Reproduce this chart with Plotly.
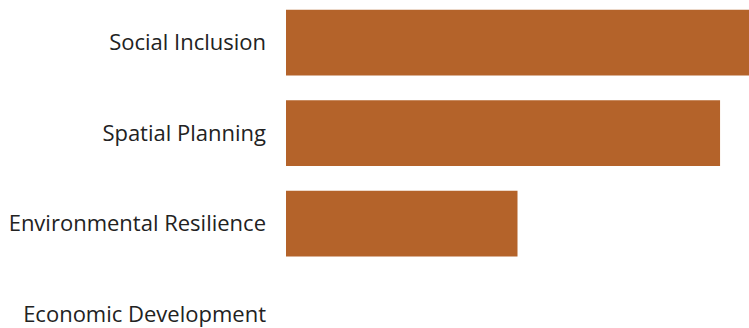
import plotly.graph_objects as go

categories = ["Social Inclusion", "Spatial Planning", "Environmental Resilience", "Economic Development"]
values = [16, 15, 8, 0]
bar_color = "#B4632A"

fig = go.Figure(go.Bar(
    y=categories,
    x=values,
    orientation="h",
    marker=dict(color=bar_color, line=dict(width=0)),
))

fig.update_layout(
    width=749,
    height=328,
    margin=dict(l=286, r=0, t=0, b=0),
    paper_bgcolor="white",
    plot_bgcolor="white",
    bargap=0.275,
    showlegend=False,
    font=dict(family="Open Sans", size=22, color="#222222"),
)
fig.update_xaxes(range=[0, 16], visible=False, showgrid=False, zeroline=False)
fig.update_yaxes(
    range=[3.075, -0.47],
    showgrid=False,
    zeroline=False,
    showline=False,
    ticks="",
    ticklabelstandoff=19,
    tickfont=dict(family="Open Sans", size=22, color="#222222"),
)

fig.write_html("out.html")
